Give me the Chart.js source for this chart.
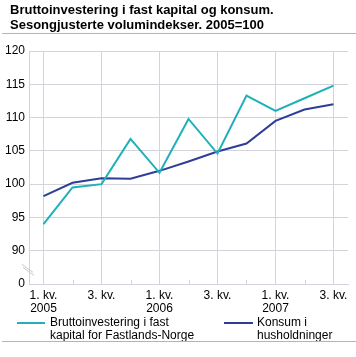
<!DOCTYPE html>
<html><head><meta charset="utf-8">
<script src="https://cdn.jsdelivr.net/npm/chart.js@4"></script>
<style>
html,body{margin:0;padding:0;background:#fff;}
#wrap{position:relative;width:356px;height:357px;font-family:"Liberation Sans",Arial,sans-serif;}
#title{position:absolute;left:10px;top:2px;font-weight:bold;font-size:13px;line-height:15px;color:#000;white-space:nowrap;}
.sep{position:absolute;left:2px;width:354px;height:1px;background:#b4b4b4;}
#c{position:absolute;left:0;top:0;}
.leg{position:absolute;font-size:12px;line-height:13px;color:#000;white-space:nowrap;}
.sw{position:absolute;height:2px;}
</style></head><body>
<div id="wrap">
<canvas id="c" width="356" height="357"></canvas>
<div id="title">Bruttoinvestering i fast kapital og konsum.<br>Sesongjusterte volumindekser. 2005=100</div>
<div class="sep" style="top:33px"></div>
<div class="sw" style="left:17px;top:322px;width:28px;background:#1fb0b9"></div>
<div class="leg" style="left:50px;top:316px">Bruttoinvestering i fast<br>kapital for Fastlands-Norge</div>
<div class="sw" style="left:224px;top:322px;width:29px;background:#2e3e98"></div>
<div class="leg" style="left:257px;top:316px">Konsum i<br>husholdninger</div>
<div class="sep" style="top:341px"></div>
</div>
<script>
const quarters = ['1. kv.','2. kv.','3. kv.','4. kv.','1. kv.','2. kv.','3. kv.','4. kv.','1. kv.','2. kv.','3. kv.'];
const years = ['2005','','','','2006','','','','2007','',''];
const investering = [94.0, 99.5, 100.0, 106.8, 101.7, 109.8, 104.6, 113.3, 111.0, 112.9, 114.8];
const konsum = [98.2, 100.2, 100.9, 100.8, 102.0, 103.4, 104.9, 106.1, 109.5, 111.2, 112.0];
const yTicks = [85, 90, 95, 100, 105, 110, 115, 120];
const yTickLabels = ['0', '90', '95', '100', '105', '110', '115', '120'];

const gridColor = '#d3d3db';
const extras = {
  id: 'extras',
  afterDraw(chart) {
    const ctx = chart.ctx, x = chart.scales.x, y = chart.scales.y, a = chart.chartArea;
    ctx.save();
    ctx.strokeStyle = gridColor; ctx.lineWidth = 1;
    for (let i = 1; i < quarters.length; i += 2) {
      const px = Math.round(x.getPixelForValue(i)) + 0.5;
      ctx.beginPath(); ctx.moveTo(px, a.bottom); ctx.lineTo(px, a.bottom - 4); ctx.stroke();
    }
    // axis break
    const by = (y.getPixelForValue(90) + y.getPixelForValue(85)) / 2 + 2;
    ctx.strokeStyle = '#c8c8c8';
    ctx.beginPath(); ctx.moveTo(a.left - 7, by - 5); ctx.lineTo(a.left + 4, by + 3); ctx.stroke();
    ctx.beginPath(); ctx.moveTo(a.left - 6, by - 2); ctx.lineTo(a.left + 5, by + 6); ctx.stroke();
    ctx.restore();
  }
};

new Chart(document.getElementById('c'), {
  type: 'line',
  data: {
    labels: quarters.map((q, i) => years[i] ? [q, years[i]] : q),
    datasets: [
      { label: 'Bruttoinvestering i fast kapital for Fastlands-Norge', data: investering, borderColor: '#1fb0b9', borderWidth: 2, pointRadius: 0, tension: 0 },
      { label: 'Konsum i husholdninger', data: konsum, borderColor: '#2e3e98', borderWidth: 2, pointRadius: 0, tension: 0 }
    ]
  },
  options: {
    responsive: false, animation: false,
    layout: { padding: { left: 0, right: 8, top: 51, bottom: 37 } },
    plugins: { legend: { display: false }, tooltip: { enabled: false } },
    scales: {
      x: {
        offset: true,
        grid: { offset: false, color: c => (c.index % 2 === 0 ? gridColor : 'rgba(0,0,0,0)'), drawTicks: false },
        border: { color: gridColor },
        ticks: {
          autoSkip: false, maxRotation: 0, padding: 5, color: '#000',
          font: { family: '"Liberation Sans", Arial, sans-serif', size: 12, lineHeight: 1.1 },
          callback: function (v, i) { return i % 2 === 0 ? this.getLabelForValue(v) : ''; }
        },
        afterFit: s => { s.height = 36; }
      },
      y: {
        min: 85, max: 120,
        afterBuildTicks: s => { s.ticks = yTicks.map(v => ({ value: v })); },
        grid: { color: gridColor, drawTicks: false },
        border: { color: gridColor },
        ticks: {
          padding: 4, color: '#000',
          font: { family: '"Liberation Sans", Arial, sans-serif', size: 12 },
          callback: v => yTickLabels[yTicks.indexOf(v)]
        },
        afterFit: s => { s.width = 29; }
      }
    }
  },
  plugins: [extras]
});
</script>
</body></html>
